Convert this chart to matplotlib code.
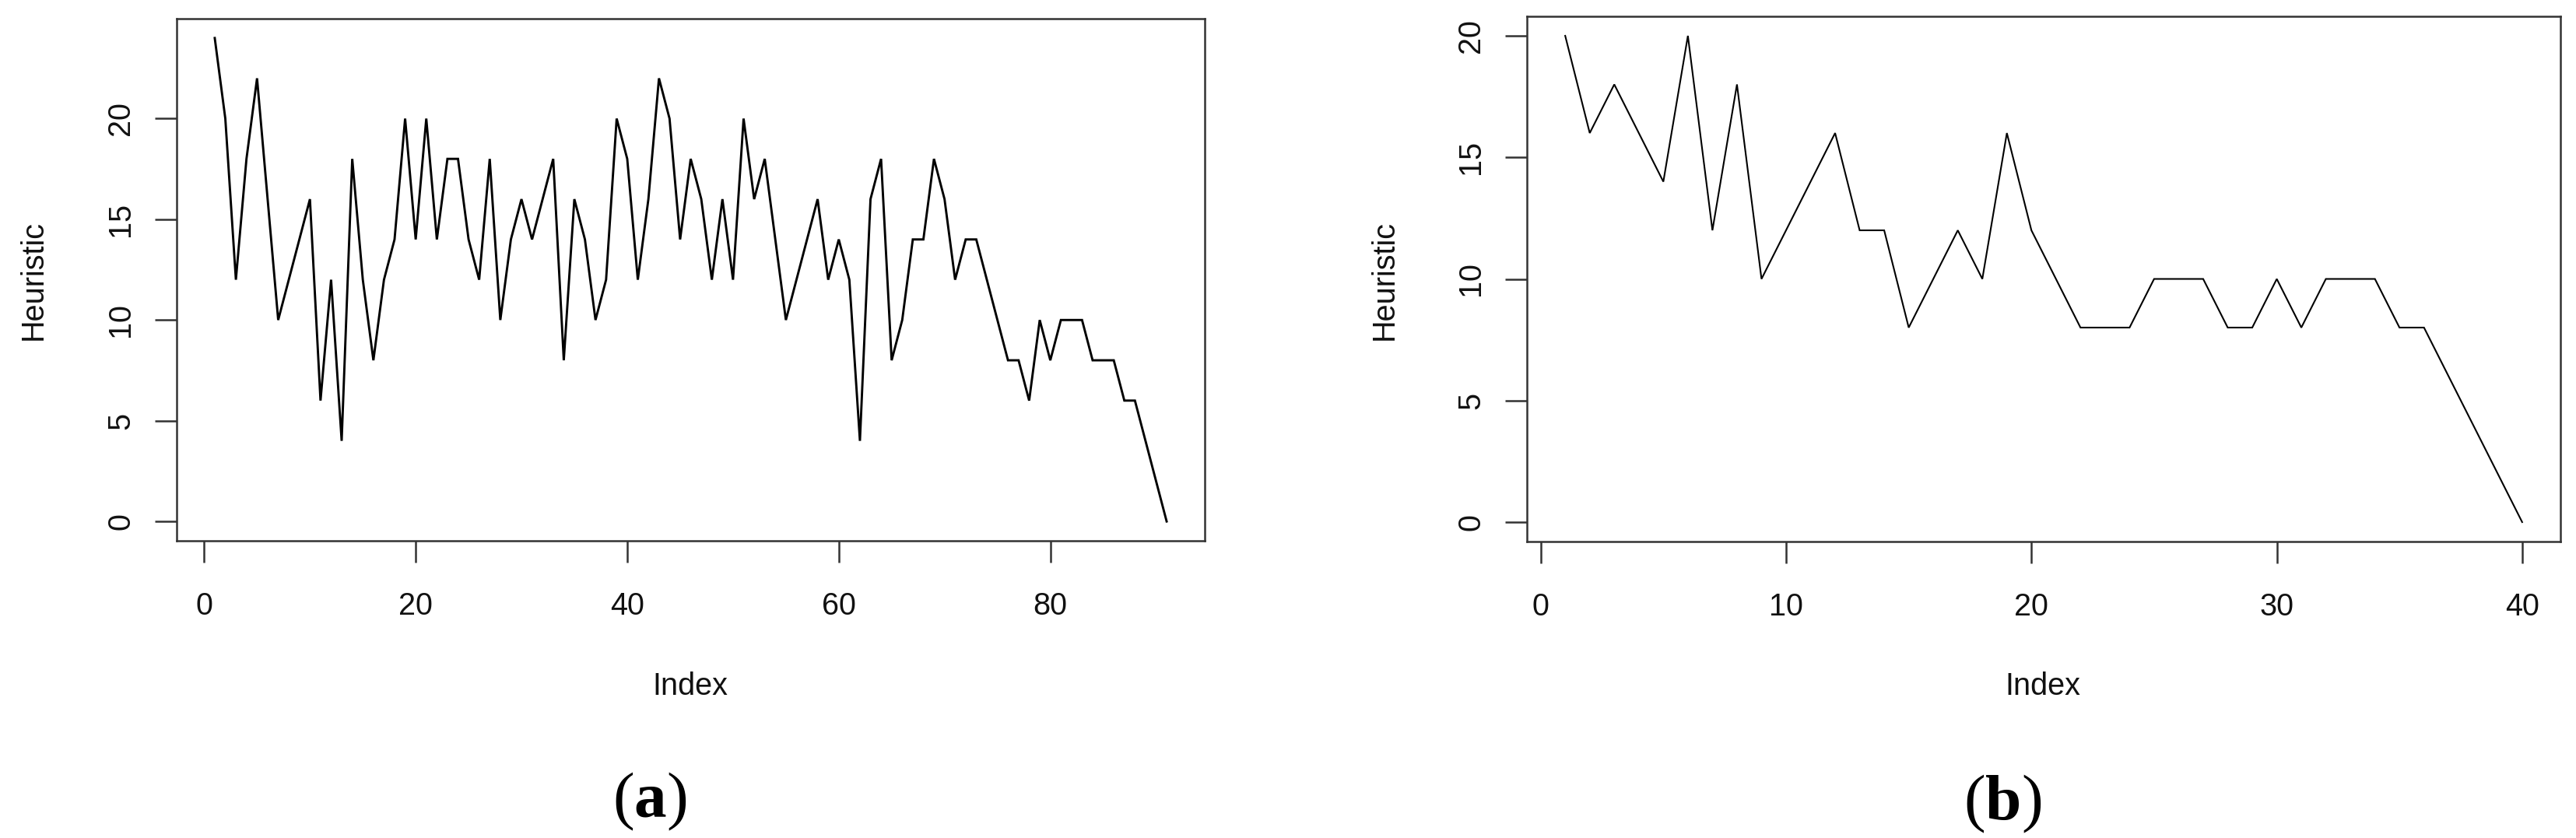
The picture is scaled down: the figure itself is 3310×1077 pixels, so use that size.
import matplotlib
matplotlib.use("Agg")
import matplotlib.pyplot as plt
import numpy as np

# ---- data ----
heuristic_a = [24, 20, 12, 18, 22, 16, 10, 12, 14, 16,
               6, 12, 4, 18, 12, 8, 12, 14, 20, 14,
               20, 14, 18, 18, 14, 12, 18, 10, 14, 16,
               14, 16, 18, 8, 16, 14, 10, 12, 20, 18,
               12, 16, 22, 20, 14, 18, 16, 12, 16, 12,
               20, 16, 18, 14, 10, 12, 14, 16, 12, 14,
               12, 4, 16, 18, 8, 10, 14, 14, 18, 16,
               12, 14, 14, 12, 10, 8, 8, 6, 10, 8,
               10, 10, 10, 8, 8, 8, 6, 6, 4, 2, 0]
heuristic_b = [20, 16, 18, 16, 14, 20, 12, 18, 10, 12,
               14, 16, 12, 12, 8, 10, 12, 10, 16, 12,
               10, 8, 8, 8, 10, 10, 10, 8, 8, 10,
               8, 10, 10, 10, 8, 8, 6, 4, 2, 0]
xticks_a = [0, 20, 40, 60, 80]
xticks_b = [0, 10, 20, 30, 40]
yticks_a = [0, 5, 10, 15, 20]
yticks_b = [0, 5, 10, 15, 20]
panel_labels = ["a", "b"]
xlabel = "Index"
ylabel = "Heuristic"

plt.rcParams['font.family'] = ['Liberation Sans', 'DejaVu Sans']
plt.rcParams['mathtext.fontset'] = 'custom'
plt.rcParams['mathtext.rm'] = 'Liberation Serif'
plt.rcParams['mathtext.bf'] = 'Liberation Serif:bold'

W, H = 3310, 1077
fig = plt.figure(figsize=(W / 100, H / 100), dpi=100)

def px_axes(x0, y0, x1, y1):
    return fig.add_axes([x0 / W, 1 - y1 / H, (x1 - x0) / W, (y1 - y0) / H])

FS = 28.5
frame_col = '#333333'

def style(ax, lw_frame):
    for s in ax.spines.values():
        s.set_linewidth(lw_frame)
        s.set_color(frame_col)
    ax.tick_params(axis='both', direction='out', length=20, width=lw_frame,
                   color=frame_col, labelsize=FS, labelcolor='#111111')
    ax.tick_params(axis='x', pad=27)
    ax.tick_params(axis='y', pad=18)

# panel a
ax1 = px_axes(227, 24, 1548, 695)
y_a = np.array(heuristic_a)
x_a = np.arange(1, len(y_a) + 1)
ax1.plot(x_a, y_a, color='black', lw=2.1, solid_joinstyle='miter')
n = len(y_a)
ax1.set_xlim(1 - 0.04 * (n - 1), n + 0.04 * (n - 1))
ax1.set_ylim(min(y_a) - 0.04 * (max(y_a) - min(y_a)), max(y_a) + 0.04 * (max(y_a) - min(y_a)))
ax1.set_xticks(xticks_a)
ax1.set_yticks(yticks_a)
ax1.set_yticklabels([str(v) for v in yticks_a], rotation=90, va='center')
style(ax1, 1.8)

# panel b
ax2 = px_axes(1962, 21, 3290, 696)
y_b = np.array(heuristic_b)
x_b = np.arange(1, len(y_b) + 1)
ax2.plot(x_b, y_b, color='black', lw=1.5, solid_joinstyle='miter')
m = len(y_b)
ax2.set_xlim(1 - 0.04 * (m - 1), m + 0.04 * (m - 1))
ax2.set_ylim(min(y_b) - 0.04 * (max(y_b) - min(y_b)), max(y_b) + 0.04 * (max(y_b) - min(y_b)))
ax2.set_xticks(xticks_b)
ax2.set_yticks(yticks_b)
ax2.set_yticklabels([str(v) for v in yticks_b], rotation=90, va='center')
style(ax2, 1.8)

# axis titles
fig.text(887 / W, 1 - 882 / H, xlabel, ha='center', va='center', fontsize=FS, color='#111111')
fig.text(2625 / W, 1 - 882 / H, xlabel, ha='center', va='center', fontsize=FS, color='#111111')
fig.text(43 / W, 1 - 360 / H, ylabel, ha='center', va='center', rotation=90, fontsize=FS, color='#111111')
fig.text(1779 / W, 1 - 360 / H, ylabel, ha='center', va='center', rotation=90, fontsize=FS, color='#111111')

# panel labels
fig.text(835 / W, 1 - 1030 / H, r'$(\mathbf{%s})$' % panel_labels[0], ha='center', va='center', fontsize=60)
fig.text(2573 / W, 1 - 1033 / H, r'$(\mathbf{%s})$' % panel_labels[1], ha='center', va='center', fontsize=60)

fig.savefig('out.png', dpi=100, facecolor='white')
